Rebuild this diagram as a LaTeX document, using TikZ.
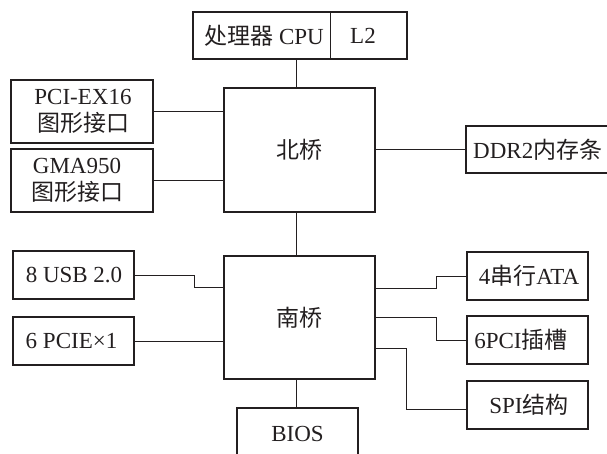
\documentclass[tikz,border=0pt]{standalone}
\usepackage{fontspec}
\setmainfont{Liberation Serif}
\newfontfamily\cjk{Noto Sans CJK SC}
\usetikzlibrary{calc}
\definecolor{ink}{HTML}{231F20}
\begin{document}
\begin{tikzpicture}[x=1pt,y=-1pt,
  box/.style={draw=ink, line width=1.6pt, inner sep=0pt},
  conn/.style={draw=ink, line width=1pt},
  txt/.style={text=ink, inner sep=0pt, font=\fontsize{23}{27}\selectfont, align=center}]
\useasboundingbox (0,0) rectangle (607,454);
\clip (0,0) rectangle (607,454);
% CPU
\node[box, minimum width=214pt, minimum height=47pt] (cpu) at (300,35.5) {};
\node[txt] (cput) at (264,35.5) {{\cjk 处理器} CPU};
\node[txt] (l2) at (363,35.5) {L2};
\draw[draw=ink, line width=0.8pt] ($(cpu.north west)+(138,0)$) -- ($(cpu.south west)+(138,0)$);
% bridges
\node[txt, box, minimum width=151pt, minimum height=124pt] (nb) at (299.5,150) {{\cjk 北桥}};
\node[txt, box, minimum width=151pt, minimum height=123pt] (sb) at (299.5,317.5) {{\cjk 南桥}};
% left top
\node[box, minimum width=142pt, minimum height=63pt] (pci) at (82,111.5) {};
\node[txt] (pcit) at (83,111.5) {PCI-EX16\\{\cjk 图形接口}};
\node[box, minimum width=142pt, minimum height=63pt] (gma) at (82,180.5) {};
\node[txt] (gmat) at (77,180.5) {GMA950\\{\cjk 图形接口}};
% DDR
\node[box, minimum width=174pt, minimum height=47pt] (ddr) at (553,149.5) {};
\node[txt, anchor=west] (ddrt) at (473,150) {DDR2{\cjk 内存条}};
% left bottom
\node[box, minimum width=121pt, minimum height=48pt] (usb) at (73.5,275) {};
\node[txt] (usbt) at (74,275) {8 USB 2.0};
\node[box, minimum width=121pt, minimum height=48pt] (pcie) at (73.5,341) {};
\node[txt] (pciet) at (71.5,341) {6 PCIE×1};
% right bottom
\node[box, minimum width=121pt, minimum height=48pt] (ata) at (527.5,276) {};
\node[txt] (atat) at (529,276) {4{\cjk 串行}ATA};
\node[box, minimum width=121pt, minimum height=48pt] (pcis) at (527.5,340) {};
\node[txt] (pcist) at (521,340) {6PCI{\cjk 插槽}};
\node[box, minimum width=121pt, minimum height=48pt] (spi) at (527.5,405) {};
\node[txt] (spit) at (529,405) {SPI{\cjk 结构}};
% BIOS
\node[txt, box, minimum width=121pt, minimum height=52pt] (bios) at (297.5,434) {BIOS};
% connectors
\coordinate (bus) at (296,0);
\draw[conn] (cpu.south -| bus) -- (nb.north -| bus);
\draw[conn] (nb.south -| bus) -- (sb.north -| bus);
\draw[conn] (sb.south -| bus) -- (bios.north -| bus);
\draw[conn] (pci.east) -- (pci.east -| nb.west);
\draw[conn] (gma.east) -- (gma.east -| nb.west);
\draw[conn] (nb.east |- ddr.west) -- (ddr.west);
\coordinate (u1) at (194,287);
\draw[conn] (usb.east) -| (u1) -- (u1 -| sb.west);
\draw[conn] (pcie.east) -- (pcie.east -| sb.west);
\coordinate (a1) at (436,288);
\draw[conn] (ata.west) -| (a1) -- (a1 -| sb.east);
\coordinate (p1) at (436,317);
\draw[conn] (pcis.west) -| (p1) -- (p1 -| sb.east);
\coordinate (s1) at (406,348);
\coordinate (s2) at ($(spi.west)+(0,4)$);
\draw[conn] (s2) -| (s1) -- (s1 -| sb.east);
\end{tikzpicture}
\end{document}
